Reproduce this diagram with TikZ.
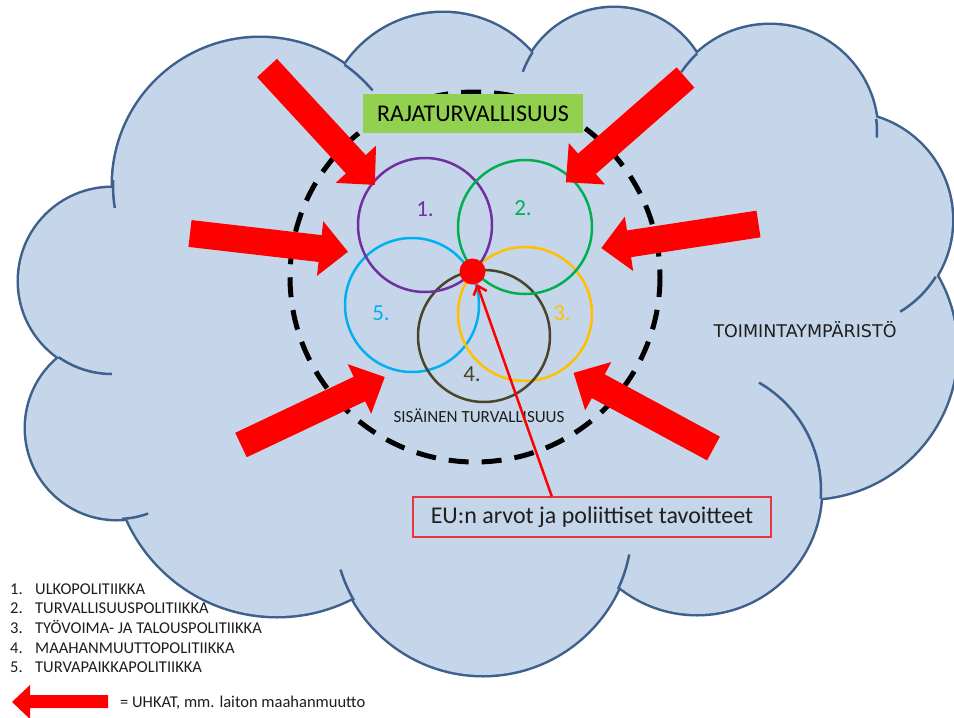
\documentclass[tikz,border=0pt]{standalone}
\usepackage{fontspec}
\setmainfont{Carlito}
\newfontfamily\envface{DejaVu Sans}
\usetikzlibrary{arrows.meta,calc}

\definecolor{cloudfill}{RGB}{198,214,234}
\definecolor{cloudedge}{RGB}{62,96,140}
\definecolor{threatred}{RGB}{255,0,0}
\definecolor{pol1}{RGB}{112,48,160}
\definecolor{pol2}{RGB}{0,176,80}
\definecolor{pol3}{RGB}{255,192,0}
\definecolor{pol4}{RGB}{74,69,42}
\definecolor{pol5}{RGB}{0,176,240}
\definecolor{bordergreen}{RGB}{146,208,80}
\definecolor{eured}{RGB}{232,52,60}
\definecolor{textdark}{RGB}{30,30,30}

\begin{document}
\begin{tikzpicture}[x=1pt,y=-1pt,
  outerrim/.style={draw=cloudedge,line width=5pt},
  innerrim/.style={draw=cloudedge,line width=2.5pt},
  policy/.style={line width=2.5pt},
  policynum/.style={inner sep=0pt,anchor=base,font=\fontsize{23}{26}\selectfont},
  threat/.style={fill=threatred},
  threatarrow/.pic={\fill[threat] (0,-13.5) -- (131,-13.5) -- (131,-27.5) -- (159,0)
      -- (131,27.5) -- (131,13.5) -- (0,13.5) -- cycle;},
  legendtext/.style={inner sep=0pt,anchor=base west,text=textdark,font=\fontsize{16.5}{19}\selectfont},
  eulink/.style={draw=threatred,line width=2.5pt,-{Straight Barb[length=8pt,width=14pt]}}]

% page
\fill[white] (0,0) rectangle (954,718);
\useasboundingbox (0,0) rectangle (954,718);

% ---- cloud: rim of every bump, then the filled union, then inner rim ends
\foreach \cx/\cy/\r in {260/185/147, 443/131/118, 614/105/97, 770/132/107,
    845/220/107, 808/350/148.5, 697/490/124, 483/526/149, 277/452/164,
    117/428/91, 112/281/93}
  \draw[outerrim] (\cx,\cy) circle[radius=\r];
\foreach \cx/\cy/\r in {260/185/147, 443/131/118, 614/105/97, 770/132/107,
    845/220/107, 808/350/148.5, 697/490/124, 483/526/149, 277/452/164,
    117/428/91, 112/281/93}
  \fill[cloudfill] (\cx,\cy) circle[radius=\r];
\fill[cloudfill] (260,185) -- (443,131) -- (614,105) -- (770,132) -- (845,220)
  -- (808,350) -- (697,490) -- (483,526) -- (277,452) -- (117,428) -- (112,281) -- cycle;
\foreach \cx/\cy/\r/\a/\b in {260/185/147/171/182, 260/185/147/305/320,
    614/105/97/200/213, 770/132/107/214/227, 770/132/107/353/363,
    845/220/107/32/59, 697/490/124/-60/4, 483/526/149/11/25,
    483/526/149/150/163, 117/428/91/70/87, 112/281/93/90/125}
  \draw[innerrim] (\cx,\cy) ++(\a:\r) arc[start angle=\a, end angle=\b, radius=\r];

% ---- internal security ring
\draw[black,line width=5pt,dash pattern=on 20pt off 13pt] (475,277) circle[radius=185];

% ---- policy circles
\draw[policy,pol5] (412,305) circle[radius=67];
\draw[policy,pol3] (525,314) circle[radius=67];
\draw[policy,pol4] (484,336) circle[radius=66];
\draw[policy,pol1] (425,225) circle[radius=67];
\draw[policy,pol2] (525,227) circle[radius=67];

\node[policynum,text=pol1] (n1) at (425,216) {1.};
\node[policynum,text=pol2] (n2) at (523,215) {2.};
\node[policynum,text=pol3] (n3) at (562,320) {3.};
\node[policynum,text=pol4] (n4) at (472,381) {4.};
\node[policynum,text=pol5] (n5) at (381,320) {5.};

% ---- threats
\pic[rotate=-47.3] at (267,68) {threatarrow};
\pic[rotate=-6.6] at (190,233.5) {threatarrow};
\pic[rotate=25.3] at (241,445) {threatarrow};
\pic[rotate=-138.8] at (685.5,77.5) {threatarrow};
\pic[rotate=-171.3] at (758.5,224) {threatarrow};
\pic[rotate=151.6] at (713.5,448.5) {threatarrow};

% ---- labels
\node[fill=bordergreen,minimum width=220pt,minimum height=39pt,inner sep=0pt,
  text=black,font=\fontsize{24}{28}\selectfont] (border) at (473,113.5) {RAJATURVALLISUUS};
\node[inner sep=0pt,anchor=base,text=textdark,font=\fontsize{17}{20}\selectfont]
  (internal) at (479,422) {SISÄINEN TURVALLISUUS};
\node[inner sep=0pt,anchor=base,text=textdark,font=\envface\fontsize{17.5}{21}\selectfont]
  (env) at (805,337) {TOIMINTAYMPÄRISTÖ};

% ---- EU values at the core
\node[circle,fill=threatred,minimum size=26pt,inner sep=0pt] (dot) at (472.5,271.5) {};
\node[draw=eured,line width=1.3pt,minimum width=358pt,minimum height=40pt,inner sep=0pt,
  text=textdark,font=\fontsize{24}{28}\selectfont] (eubox) at (592,517)
  {EU:n arvot ja poliittiset tavoitteet};
\coordinate (eutop) at ($(eubox.north west)!0.388!(eubox.north east)$);
\draw[eulink] (eutop) -- (dot);

% ---- legend
\foreach \n/\t/\y in {1/ULKOPOLITIIKKA/594, 2/TURVALLISUUSPOLITIIKKA/613.5,
    3/{TYÖVOIMA- JA TALOUSPOLITIIKKA}/633, 4/MAAHANMUUTTOPOLITIIKKA/653,
    5/TURVAPAIKKAPOLITIIKKA/672.5} {
  \node[legendtext] (num\n) at (10,\y) {\n.};
  \node[legendtext] (item\n) at (35,\y) {\t};
}
\fill[threat] (12,702) -- (30,685) -- (30,695) -- (108,695) -- (108,708)
  -- (30,708) -- (30,719) -- cycle;
\node[legendtext] (threatkey) at (120,707) {= UHKAT, mm. laiton maahanmuutto};
\end{tikzpicture}
\end{document}
